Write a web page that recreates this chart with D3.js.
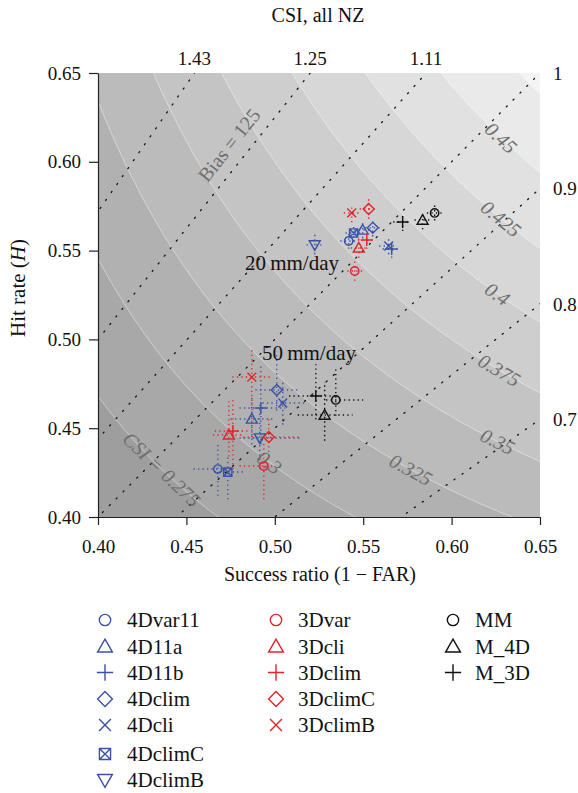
<!DOCTYPE html>
<html>
<head>
<meta charset="utf-8">
<script src="https://cdn.jsdelivr.net/npm/d3@7"></script>
<style>
  body { margin: 0; background: #fff; }
  text { font-family: "Liberation Serif", "DejaVu Serif", serif; }
</style>
</head>
<body>
<svg id="chart" width="578" height="793"></svg>
<script>
// experiments, in legend order
const models = ["4Dvar11", "4D11a", "4D11b", "4Dclim", "4Dcli", "4DclimC", "4DclimB",
                "3Dvar", "3Dcli", "3Dclim", "3DclimC", "3DclimB", "MM", "M_4D", "M_3D"];

// 20 mm/day threshold: success ratio, hit rate and their ranges
const sr20   = [0.5418, 0.5497, 0.5661, 0.5554, 0.5644, 0.5446, 0.5226, 0.5452, 0.5475, 0.5520, 0.5531, 0.5435, 0.5904, 0.5836, 0.5723];
const hr20   = [0.5554, 0.5616, 0.5509, 0.5628, 0.5526, 0.5599, 0.5532, 0.5385, 0.5515, 0.5560, 0.5734, 0.5712, 0.5712, 0.5672, 0.5661];
const srLo20 = [0.537, 0.545, 0.561, 0.551, 0.559, 0.540, 0.518, 0.541, 0.543, 0.547, 0.548, 0.539, 0.586, 0.579, 0.567];
const srHi20 = [0.547, 0.554, 0.571, 0.560, 0.569, 0.549, 0.528, 0.550, 0.552, 0.557, 0.558, 0.548, 0.595, 0.588, 0.577];
const hrLo20 = [0.551, 0.557, 0.546, 0.558, 0.548, 0.555, 0.548, 0.533, 0.546, 0.551, 0.568, 0.566, 0.567, 0.562, 0.561];
const hrHi20 = [0.560, 0.566, 0.556, 0.567, 0.557, 0.564, 0.559, 0.544, 0.557, 0.561, 0.579, 0.576, 0.576, 0.572, 0.571];

// 50 mm/day threshold
const sr50   = [0.4678, 0.4870, 0.4921, 0.5011, 0.5045, 0.4734, 0.4915, 0.4938, 0.4740, 0.4763, 0.4966, 0.4870, 0.5345, 0.5282, 0.5232];
const hr50   = [0.4270, 0.4552, 0.4614, 0.4715, 0.4642, 0.4253, 0.4445, 0.4287, 0.4462, 0.4484, 0.4450, 0.4788, 0.4659, 0.4574, 0.4681];
const srLo50 = [0.454, 0.475, 0.480, 0.489, 0.493, 0.466, 0.480, 0.480, 0.465, 0.466, 0.482, 0.476, 0.529, 0.513, 0.508];
const srHi50 = [0.476, 0.500, 0.506, 0.514, 0.517, 0.482, 0.514, 0.499, 0.482, 0.486, 0.514, 0.498, 0.550, 0.544, 0.534];
const hrLo50 = [0.412, 0.441, 0.441, 0.460, 0.452, 0.410, 0.427, 0.410, 0.434, 0.427, 0.434, 0.445, 0.457, 0.443, 0.455];
const hrHi50 = [0.442, 0.469, 0.486, 0.493, 0.477, 0.435, 0.463, 0.442, 0.465, 0.466, 0.456, 0.495, 0.483, 0.476, 0.486];

// background: CSI contour levels and frequency bias lines
const csiLevels = [0.275, 0.3, 0.325, 0.35, 0.375, 0.4, 0.425, 0.45, 0.475];
const csiLabelSR = [0.436, 0.497, 0.577, 0.626, 0.627, 0.626, 0.628, 0.628];
const biasTop = [1.43, 1.25, 1.11];
const biasRight = [1, 0.9, 0.8, 0.7];
const ticks = [0.40, 0.45, 0.50, 0.55, 0.60, 0.65];

const shape = {"4Dvar11": "circle", "4D11a": "tri", "4D11b": "plus", "4Dclim": "diamond", "4Dcli": "x",
  "4DclimC": "boxx", "4DclimB": "tridown", "3Dvar": "circle", "3Dcli": "tri", "3Dclim": "plus",
  "3DclimC": "diamond", "3DclimB": "x", "MM": "circle", "M_4D": "tri", "M_3D": "plus"};
const colorOf = m => m.startsWith("4D") ? "#3a52a6" : m.startsWith("3D") ? "#e3242b" : "#111";

const svg = d3.select("#chart");
const x = d3.scaleLinear().domain([0.40, 0.65]).range([98, 540]);
const y = d3.scaleLinear().domain([0.40, 0.65]).range([517, 73]);

svg.append("clipPath").attr("id", "plot")
  .append("rect").attr("x", 98).attr("y", 73).attr("width", 442).attr("height", 444);

const plot = svg.append("g").attr("clip-path", "url(#plot)");
const csiH = (c, s) => 1 / (1 / c + 1 - 1 / s);
const srGrid = d3.range(0, 201).map(i => 0.40 + i * 0.25 / 200);
const gray = i => { const v = Math.round(158 + i * 9.5); return `rgb(${v},${v},${v + (i > 8 ? 2 : 0)})`; };

plot.append("rect").attr("x", 98).attr("y", 73).attr("width", 442).attr("height", 444).attr("fill", gray(0));
csiLevels.forEach((c, i) => {
  const area = d3.area()
    .x(s => x(s))
    .y0(y(0.65))
    .y1(s => y(Math.min(csiH(c, s), 0.66)));
  plot.append("path").attr("d", area(srGrid)).attr("fill", gray(i + 1));
  const line = d3.line().x(s => x(s)).y(s => y(csiH(c, s)));
  plot.append("path").attr("d", line(srGrid)).attr("fill", "none")
    .attr("stroke", "#fff").attr("stroke-width", 0.6).attr("stroke-opacity", 0.7);
});

// bias lines
biasTop.concat(biasRight).forEach(b => {
  plot.append("line")
    .attr("x1", x(0)).attr("y1", y(0)).attr("x2", x(1)).attr("y2", y(b))
    .attr("stroke", "#111").attr("stroke-width", 1.3)
    .attr("stroke-dasharray", "1.2,8.5").attr("stroke-linecap", "round");
});

// contour labels
csiLabelSR.forEach((s, i) => {
  const c = csiLevels[i];
  const px = x(s), py = y(csiH(c, s));
  const px2 = x(s + 0.002), py2 = y(csiH(c, s + 0.002));
  const ang = Math.atan2(py2 - py, px2 - px) * 180 / Math.PI;
  plot.append("text")
    .attr("transform", `translate(${px},${py}) rotate(${ang})`)
    .attr("text-anchor", "middle").attr("dy", "0.35em")
    .attr("font-size", 20).attr("fill", "#6e6e6e").attr("font-style", "italic")
    .text(i === 0 ? "CSI = 0.275" : String(c));
});

const bAng = -Math.atan((1.25 * 444 / 0.25) / (442 / 0.25)) * 180 / Math.PI;
plot.append("text")
  .attr("transform", `translate(229,145) rotate(${bAng})`)
  .attr("text-anchor", "middle").attr("dy", "0.35em")
  .attr("font-size", 20).attr("fill", "#6e6e6e").text("Bias = 125");

// axes
const xAxis = svg.append("g").attr("transform", "translate(0,517)")
  .call(d3.axisBottom(x).tickValues(ticks).tickFormat(d3.format(".2f")).tickSize(8).tickSizeOuter(0).tickPadding(15));
const yAxis = svg.append("g").attr("transform", "translate(98,0)")
  .call(d3.axisLeft(y).tickValues(ticks).tickFormat(d3.format(".2f")).tickSize(9).tickSizeOuter(0).tickPadding(8));
[xAxis, yAxis].forEach(a => {
  a.selectAll("text").attr("font-size", 19).attr("fill", "#111")
    .style("font-family", '"Liberation Serif", serif');
  a.selectAll("line,path").attr("stroke", "#222").attr("stroke-width", 1.2);
});

biasTop.forEach(b => {
  svg.append("text").attr("x", x(0.65 / b)).attr("y", 65).attr("text-anchor", "middle")
    .attr("font-size", 19).attr("fill", "#111").text(b);
});
biasRight.forEach(b => {
  svg.append("text").attr("x", 553).attr("y", y(0.65 * b)).attr("dy", "0.35em")
    .attr("font-size", 19).attr("fill", "#111").text(b);
});

svg.append("text").attr("x", 318).attr("y", 22).attr("text-anchor", "middle")
  .attr("font-size", 20).attr("fill", "#111").text("CSI, all NZ");
svg.append("text").attr("x", 320).attr("y", 581).attr("text-anchor", "middle")
  .attr("font-size", 20).attr("fill", "#111").text("Success ratio (1 \u2212 FAR)");
const yt = svg.append("text").attr("transform", "translate(25,288) rotate(-90)")
  .attr("text-anchor", "middle").attr("font-size", 21).attr("fill", "#111");
yt.append("tspan").text("Hit rate (");
yt.append("tspan").attr("font-style", "italic").text("H");
yt.append("tspan").text(")");

svg.append("text").attr("x", 245).attr("y", 270).attr("font-size", 21).attr("fill", "#111").text("20\u2009mm/day");
svg.append("text").attr("x", 262).attr("y", 360).attr("font-size", 21).attr("fill", "#111").text("50\u2009mm/day");

// marker drawing
function marker(g, kind, color, k) {
  const s = 5.5 * k;
  const st = sel => sel.attr("fill", "none").attr("stroke", color).attr("stroke-width", 1.4);
  if (kind === "circle") st(g.append("circle").attr("r", 4.2 * k));
  if (kind === "tri") st(g.append("path").attr("d", `M0,${-s}L${s},${s * 0.75}L${-s},${s * 0.75}Z`));
  if (kind === "tridown") st(g.append("path").attr("d", `M${-s},${-s * 0.75}L${s},${-s * 0.75}L0,${s}Z`));
  if (kind === "diamond") st(g.append("path").attr("d", `M0,${-s}L${s},0L0,${s}L${-s},0Z`));
  if (kind === "plus") st(g.append("path").attr("d", `M${-s * 1.1},0H${s * 1.1}M0,${-s * 1.1}V${s * 1.1}`));
  if (kind === "x") { const a = s * 0.8; st(g.append("path").attr("d", `M${-a},${-a}L${a},${a}M${-a},${a}L${a},${-a}`)); }
  if (kind === "boxx") { const a = s * 0.75; st(g.append("path").attr("d", `M${-a},${-a}H${a}V${a}H${-a}ZM${-a},${-a}L${a},${a}M${-a},${a}L${a},${-a}`)); }
}

function drawSet(sr, hr, srLo, srHi, hrLo, hrHi) {
  const g = plot.append("g");
  models.forEach((m, i) => {
    const c = colorOf(m);
    g.append("line").attr("x1", x(srLo[i])).attr("x2", x(srHi[i])).attr("y1", y(hr[i])).attr("y2", y(hr[i]))
      .attr("stroke", c).attr("stroke-width", 1.4).attr("stroke-dasharray", "1.3,3.2");
    g.append("line").attr("x1", x(sr[i])).attr("x2", x(sr[i])).attr("y1", y(hrLo[i])).attr("y2", y(hrHi[i]))
      .attr("stroke", c).attr("stroke-width", 1.4).attr("stroke-dasharray", "1.3,3.2");
  });
  models.forEach((m, i) => {
    marker(g.append("g").attr("transform", `translate(${x(sr[i])},${y(hr[i])})`), shape[m], colorOf(m), 1);
  });
}
drawSet(sr50, hr50, srLo50, srHi50, hrLo50, hrHi50);
drawSet(sr20, hr20, srLo20, srHi20, hrLo20, hrHi20);

// legend
const legX = [105, 276, 453];
const legRows = [620, 646.5, 672.5, 699, 725, 754, 780];
models.forEach((m, i) => {
  const col = m.startsWith("4D") ? 0 : m.startsWith("3D") ? 1 : 2;
  const row = col === 0 ? i : col === 1 ? i - 7 : i - 12;
  const g = svg.append("g").attr("transform", `translate(${legX[col]},${legRows[row]})`);
  marker(g, shape[m], colorOf(m), 1.35);
  g.append("text").attr("x", 22).attr("dy", "0.35em").attr("font-size", 21).attr("fill", "#111")
    .text(m);
});
</script>
</body>
</html>
